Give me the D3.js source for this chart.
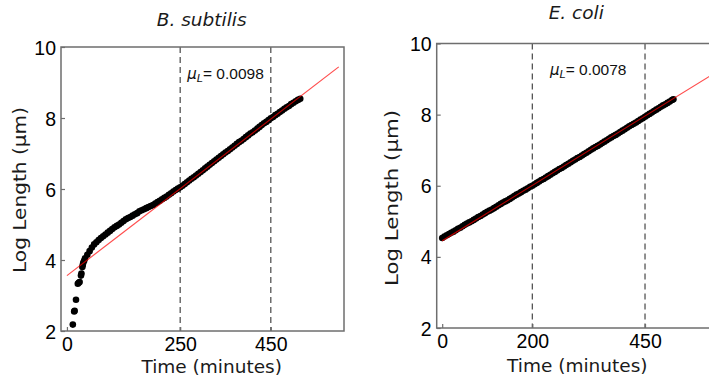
<!DOCTYPE html>
<html>
<head>
<meta charset="utf-8">
<script src="https://cdn.jsdelivr.net/npm/d3@7"></script>
<style>
  body { margin: 0; background: #fff; }
  svg { display: block; }
</style>
</head>
<body>
<svg id="chart" width="709" height="379"></svg>
<script>
// Log length of growing cells over time, with a linear fit over the steady window.
const bsubTime = [13,16,17,20,24,26,28,31,32,34,35,36,38,40,
  45,50,55,60,65,70,75,80,85,90,95,100,105,110,115,120,125,130,135,140,
  145,150,155,160,165,170,175,180,185,190,195,200,205,210,215,220,225,230,235,240,245,250,
  255,260,265,270,275,280,285,290,295,300,305,310,315,320,325,330,335,340,345,350,
  355,360,365,370,375,380,385,390,395,400,405,410,415,420,425,430,435,440,445,450,
  455,460,465,470,475,480,485,490,495,500,505,510,515];
const bsubLogLength = [2.18,2.55,2.57,2.88,3.33,3.36,3.38,3.56,3.62,3.80,3.86,3.92,3.98,4.05,
  4.15,4.25,4.35,4.44,4.50,4.56,4.62,4.67,4.72,4.77,4.82,4.87,4.92,4.96,5.00,5.05,5.10,5.15,5.18,5.21,
  5.25,5.29,5.32,5.37,5.40,5.43,5.46,5.49,5.52,5.55,5.59,5.63,5.67,5.71,5.75,5.79,5.84,5.88,5.93,5.97,6.01,6.05,
  6.09,6.14,6.19,6.24,6.29,6.33,6.38,6.43,6.48,6.53,6.58,6.63,6.68,6.73,6.78,6.83,6.88,6.93,6.98,7.03,
  7.07,7.12,7.17,7.22,7.27,7.32,7.36,7.41,7.46,7.51,7.56,7.60,7.65,7.70,7.75,7.80,7.85,7.89,7.94,7.99,
  8.03,8.08,8.12,8.17,8.21,8.26,8.30,8.34,8.39,8.43,8.47,8.51,8.54];

const ecoliTime = [0,5,10,15,20,25,30,35,40,45,50,55,60,65,70,75,80,85,90,95,
  100,105,110,115,120,125,130,135,140,145,150,155,160,165,170,175,180,185,190,195,
  200,205,210,215,220,225,230,235,240,245,250,255,260,265,270,275,280,285,290,295,
  300,305,310,315,320,325,330,335,340,345,350,355,360,365,370,375,380,385,390,395,
  400,405,410,415,420,425,430,435,440,445,450,455,460,465,470,475,480,485,490,495,
  500,505,510,513];
const ecoliLogLength = [4.53,4.57,4.61,4.64,4.68,4.71,4.75,4.79,4.82,4.86,
  4.90,4.94,4.97,5.00,5.04,5.08,5.12,5.15,5.19,5.23,
  5.27,5.30,5.33,5.37,5.41,5.45,5.49,5.53,5.56,5.59,
  5.63,5.67,5.71,5.75,5.78,5.82,5.86,5.89,5.93,5.97,
  6.00,6.04,6.08,6.12,6.16,6.19,6.23,6.27,6.31,6.35,
  6.39,6.43,6.47,6.50,6.54,6.58,6.62,6.66,6.70,6.74,
  6.78,6.81,6.85,6.89,6.93,6.97,7.01,7.05,7.09,7.12,
  7.16,7.20,7.24,7.28,7.32,7.36,7.40,7.43,7.47,7.51,
  7.55,7.59,7.63,7.67,7.71,7.74,7.78,7.82,7.86,7.90,
  7.94,7.98,8.02,8.06,8.10,8.14,8.18,8.22,8.26,8.29,
  8.33,8.37,8.41,8.43];

// Fitted growth rate (slope) and intercept for each organism
const growthRates = [0.0098, 0.0078];
const fitIntercepts = [3.56, 4.45];
const fitTimeRange = [0, 600];

const panelTitles = ["B. subtilis", "E. coli"];
const xTickValues = [[0, 250, 450], [0, 200, 450]];
const yTickValues = [2, 4, 6, 8, 10];
const windowBounds = [[250, 450], [200, 450]];

const panels = [
  { time: bsubTime, logLen: bsubLogLength, left: 61, top: 47, width: 283, height: 284,
    xDomain: [-13.1, 611.6], titleX: 201.7, titleY: 25.7,
    xLabelX: 211.7, xLabelY: 373, tickPad: 6.5,
    yLabelX: 26, yLabelY: 190, yLabelLen: 166, noteX: 187.3, noteY: 79.3 },
  { time: ecoliTime, logLen: ecoliLogLength, left: 436.7, top: 43.5, width: 283, height: 284.5,
    xDomain: [-12.2, 615.7], titleX: 576.3, titleY: 19,
    xLabelX: 577.3, xLabelY: 372, tickPad: 6,
    yLabelX: 398, yLabelY: 198, yLabelLen: 176, noteX: 550, noteY: 75 }
];

const svg = d3.select("#chart");
const spineColor = "#6e6e6e";

panels.forEach((p, i) => {
  const x = d3.scaleLinear().domain(p.xDomain).range([p.left, p.left + p.width]);
  const y = d3.scaleLinear().domain([2, 10]).range([p.top + p.height, p.top]);
  const g = svg.append("g");

  const clipId = "clip" + i;
  svg.append("clipPath").attr("id", clipId)
    .append("rect").attr("x", p.left).attr("y", p.top)
    .attr("width", p.width).attr("height", p.height);

  // Dashed bounds of the fitting window
  g.selectAll("line.bound").data(windowBounds[i]).enter().append("line")
    .attr("class", "bound")
    .attr("x1", d => x(d)).attr("x2", d => x(d))
    .attr("y1", p.top).attr("y2", p.top + p.height)
    .attr("stroke", "#555").attr("stroke-width", 1.3)
    .attr("stroke-dasharray", "6,4");

  // Measured points
  const plot = g.append("g").attr("clip-path", `url(#${clipId})`);
  plot.selectAll("circle").data(p.time.map((t, k) => [t, p.logLen[k]])).enter()
    .append("circle")
    .attr("cx", d => x(d[0])).attr("cy", d => y(d[1]))
    .attr("r", 3.3).attr("fill", "#000");

  // Linear fit
  const fit = fitTimeRange.map(t => [t, fitIntercepts[i] + growthRates[i] * t]);
  plot.append("path")
    .attr("d", d3.line().x(d => x(d[0])).y(d => y(d[1]))(fit))
    .attr("fill", "none").attr("stroke", "#ff0000")
    .attr("stroke-opacity", 0.7).attr("stroke-width", 1.2);

  // Axes with inward ticks
  const xAxis = g.append("g").attr("transform", `translate(0,${p.top + p.height})`)
    .call(d3.axisBottom(x).tickValues(xTickValues[i]).tickSize(-4).tickPadding(p.tickPad));
  const yAxis = g.append("g").attr("transform", `translate(${p.left},0)`)
    .call(d3.axisLeft(y).tickValues(yTickValues).tickSize(-4).tickPadding(5));
  [xAxis, yAxis].forEach(a => {
    a.select(".domain").remove();
    a.selectAll(".tick line").attr("stroke", spineColor).attr("stroke-width", 1.2);
    a.selectAll(".tick text").attr("fill", "#000")
      .style("font-family", "'Liberation Sans', Arial, sans-serif").style("font-size", "19.5px");
  });
  yAxis.selectAll(".tick text").attr("dy", "0.36em");

  // Frame
  g.append("rect").attr("x", p.left).attr("y", p.top)
    .attr("width", p.width).attr("height", p.height)
    .attr("fill", "none").attr("stroke", spineColor).attr("stroke-width", 1.5);

  // Title
  svg.append("text")
    .attr("x", p.titleX).attr("y", p.titleY)
    .attr("text-anchor", "middle")
    .style("font-family", "'DejaVu Sans', sans-serif").style("font-style", "italic")
    .style("font-size", "18.5px").attr("fill", "#1a1a1a")
    .text(panelTitles[i]);

  // Axis titles
  svg.append("text")
    .attr("x", p.xLabelX).attr("y", p.xLabelY).attr("text-anchor", "middle")
    .style("font-family", "'DejaVu Sans', sans-serif").style("font-size", "18.5px")
    .attr("fill", "#1a1a1a").text("Time (minutes)");
  svg.append("text")
    .attr("transform", `translate(${p.yLabelX},${p.yLabelY}) rotate(-90)`)
    .attr("text-anchor", "middle")
    .attr("textLength", p.yLabelLen).attr("lengthAdjust", "spacingAndGlyphs")
    .style("font-family", "'DejaVu Sans', sans-serif").style("font-size", "18px")
    .attr("fill", "#1a1a1a").text("Log Length (μm)");

  // Growth-rate annotation
  const note = svg.append("text").attr("x", p.noteX).attr("y", p.noteY).attr("fill", "#111");
  note.append("tspan")
    .style("font-family", "'DejaVu Sans', sans-serif").style("font-style", "italic")
    .style("font-size", "15px").text("μ");
  note.append("tspan").attr("dy", 3)
    .style("font-family", "'DejaVu Sans', sans-serif").style("font-style", "italic")
    .style("font-size", "11px").text("L");
  note.append("tspan").attr("dy", -3)
    .style("font-family", "'Liberation Sans', Arial, sans-serif")
    .style("font-size", "15.5px").text("= " + growthRates[i].toFixed(4));
});
</script>
</body>
</html>
